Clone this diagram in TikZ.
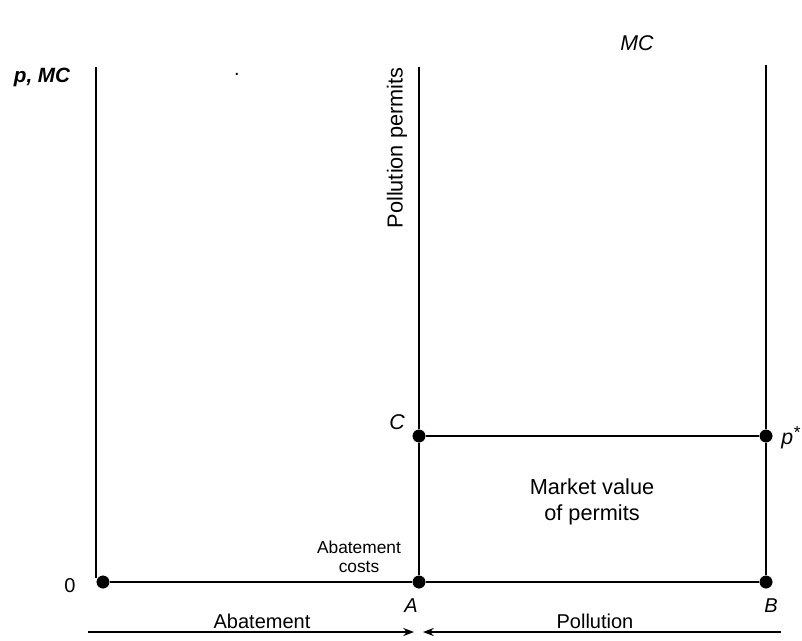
\documentclass[tikz,border=0pt]{standalone}
\usepackage{fontspec}
\setmainfont{Liberation Sans}
\usetikzlibrary{arrows.meta}
\begin{document}
\begin{tikzpicture}[x=0.75pt,y=-0.75pt,
  ax/.style={line width=1.5pt},
  pt/.style={circle,fill=black,draw=white,line width=0.6pt,inner sep=0pt,minimum size=10.5pt},
  lbl/.style={font=\fontsize{15}{17}\selectfont,inner sep=0pt},
  blbl/.style={font=\fontsize{16.3}{19}\selectfont,inner sep=0pt},
  ilbl/.style={font=\fontsize{15}{17}\selectfont\itshape,inner sep=0pt},
  slbl/.style={font=\fontsize{13}{14.3}\selectfont,inner sep=0pt,align=center},
  arr/.style={line width=1.6pt,-{Stealth[length=8pt,width=6pt]}}]
\useasboundingbox (0,0) rectangle (802,640);
% coordinates
\coordinate (Ltop) at (96,67);
\coordinate (Lbot) at (96,578);
\coordinate (Mtop) at (419,67);
\coordinate (Rtop) at (766,65);
\node[pt] (O) at (103,582) {};
\node[pt] (C) at (419,436) {};
\node[pt] (A) at (419,582) {};
\node[pt] (P) at (766,436) {};
\node[pt] (B) at (766,582) {};
% lines
\draw[ax] (Ltop) -- (Lbot);
\draw[ax] (Mtop) -- (C) -- (A);
\draw[ax] (Rtop) -- (P) -- (B);
\draw[ax] (C) -- (P);
\draw[ax] (O) -- (A) -- (B);
% labels
\node[ilbl,font=\fontsize{15.5}{17}\selectfont\itshape\bfseries] (pmc) at (42,77) {p, MC};
\node[ilbl,font=\fontsize{16}{17}\selectfont\itshape] (mc) at (637,43) {MC};
\node[lbl] (dot) at (237,74) {.};
\node[blbl,rotate=90] (pp) at (397,148) {Pollution permits};
\node[ilbl,font=\fontsize{16}{17}\selectfont\itshape] (Cl) at (397,422) {C};
\node[ilbl,anchor=west,font=\fontsize{16}{17}\selectfont\itshape] (Pl) at (781,438) {p\raisebox{0.5ex}{\fontsize{13}{13}\selectfont *}};
\node[blbl,align=center] (mv) at (592,502) {Market value\\of permits};
\node[slbl] (ac) at (359,557) {Abatement\\costs};
\node[lbl] (zero) at (70,586) {0};
\node[ilbl] (Al) at (411,606) {A};
\node[ilbl] (Bl) at (771,606) {B};
\node[lbl] (ab) at (262,621) {Abatement};
\node[lbl] (po) at (595,621) {Pollution};
% bottom arrows
\coordinate (a1) at (88,632);
\coordinate (a2) at (414,632);
\coordinate (b1) at (781,632);
\coordinate (b2) at (423,632);
\draw[arr] (a1) -- (a2);
\draw[arr] (b1) -- (b2);
\end{tikzpicture}
\end{document}
